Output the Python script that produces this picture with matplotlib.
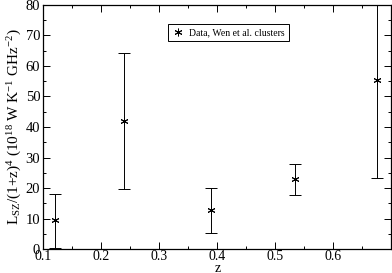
import matplotlib.pyplot as plt
from matplotlib.ticker import MultipleLocator

# Data
z = [0.12, 0.24, 0.39, 0.535, 0.675]
lsz = [9.5, 42.0, 12.7, 22.8, 55.5]
err_low = [0.3, 19.8, 5.3, 17.6, 23.2]
err_high = [18.0, 64.2, 20.0, 28.0, 81.0]

lower = [v - lo for v, lo in zip(lsz, err_low)]
upper = [hi - v for v, hi in zip(lsz, err_high)]

plt.rcParams['font.family'] = ['Liberation Serif', 'DejaVu Serif']
plt.rcParams['mathtext.fontset'] = 'custom'
plt.rcParams['mathtext.rm'] = 'Liberation Serif'
plt.rcParams['mathtext.it'] = 'Liberation Serif'

fig = plt.figure(figsize=(3.92, 2.73), dpi=100)
ax = fig.add_axes([0.1097, 0.0879, 0.8878, 0.8938])

ax.errorbar(z, lsz, yerr=[lower, upper], fmt='none', ecolor='black',
            elinewidth=0.7, capsize=4, capthick=0.7)
ax.plot(z, lsz, linestyle='none', marker=(6, 2, 0), markersize=5.5,
        color='black', markeredgewidth=0.7,
        label='Data, Wen et al. clusters')

ax.set_xlim(0.1, 0.7)
ax.set_ylim(0, 80)
ax.xaxis.set_major_locator(MultipleLocator(0.1))
ax.xaxis.set_minor_locator(MultipleLocator(0.05))
ax.yaxis.set_major_locator(MultipleLocator(10))
ax.yaxis.set_minor_locator(MultipleLocator(5))
ax.set_xticks([0.1, 0.2, 0.3, 0.4, 0.5, 0.6])
ax.tick_params(which='both', direction='in', top=True, right=True,
               labelsize=10.5, width=0.7)
ax.tick_params(axis='x', labelsize=10, pad=0.5)
ax.tick_params(axis='y', pad=2)
ax.tick_params(which='major', length=5)
ax.tick_params(which='minor', length=2.5)
for s in ax.spines.values():
    s.set_linewidth(0.9)

# x label placed by hand so it sits in the narrow strip under the tick labels
fig.text(0.555, 0.005, r'$\mathrm{z}$', fontsize=10, ha='center',
         va='baseline')
ax.set_ylabel(r'L$_{\mathrm{SZ}}$/(1+z)$^{4}$ (10$^{18}$ W K$^{-1}$ GHz$^{-2}$)',
              fontsize=11, labelpad=1)

ax.legend(loc='upper left', bbox_to_anchor=(0.345, 0.94), fontsize=7,
          frameon=True, fancybox=False, edgecolor='black', framealpha=1,
          handlelength=1.2, handletextpad=0.6, borderpad=0.4)
ax.get_legend().get_frame().set_linewidth(0.7)

fig.savefig('out.png', dpi=100)
